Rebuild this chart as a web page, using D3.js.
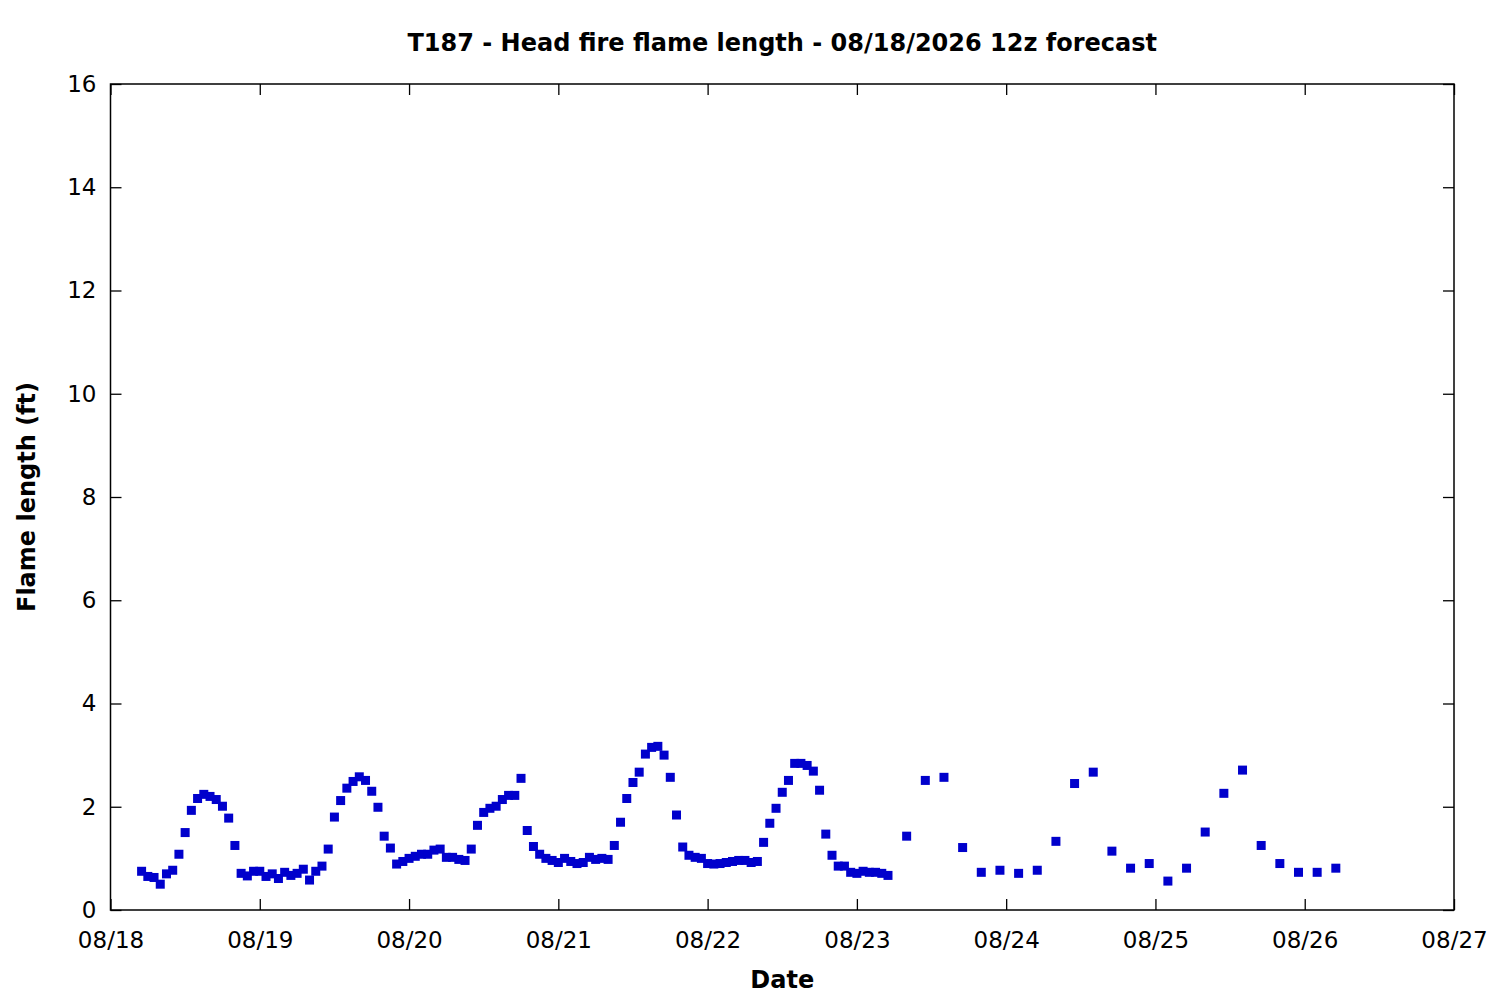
<!DOCTYPE html>
<html>
<head>
<meta charset="utf-8">
<script src="https://cdn.jsdelivr.net/npm/d3@7"></script>
<style>
  html, body { margin: 0; padding: 0; background: #fff; }
  svg { display: block; }
  text { font-family: "DejaVu Sans", sans-serif; fill: #000; }
</style>
</head>
<body>
<div id="chart"></div>
<script>
// ---- Data ----
const titleText = "T187 - Head fire flame length - 08/18/2026 12z forecast";
const xTitle = "Date";
const yTitle = "Flame length (ft)";

// Hourly values starting 08/18 05:00
const hourlyStart = "2026-08-18T05:00:00Z";
const hourlyValues = [
  0.75, 0.65, 0.63, 0.50, 0.70, 0.77, 1.08, 1.50, 1.93, 2.16, 2.24, 2.20, 2.14, 2.01, 1.78, 1.25,
  0.71, 0.66, 0.75, 0.75, 0.65, 0.70, 0.61, 0.73, 0.67, 0.71, 0.79, 0.58, 0.75, 0.85, 1.18, 1.80,
  2.12, 2.36, 2.49, 2.58, 2.51, 2.30, 1.99, 1.43, 1.20, 0.89, 0.94, 1.00, 1.04, 1.08, 1.08, 1.16,
  1.18, 1.02, 1.02, 0.98, 0.96, 1.18, 1.64, 1.89, 1.97, 2.01, 2.14, 2.22, 2.22, 2.55, 1.54, 1.23,
  1.08, 1.00, 0.96, 0.92, 1.00, 0.94, 0.90, 0.92, 1.02, 0.98, 1.00, 0.98, 1.25, 1.70, 2.16, 2.47,
  2.67, 3.02, 3.15, 3.17, 3.00, 2.57, 1.84, 1.22, 1.06, 1.02, 1.00, 0.90, 0.89, 0.90, 0.92, 0.94,
  0.96, 0.96, 0.92, 0.94, 1.31, 1.68, 1.97, 2.28, 2.51, 2.84, 2.84, 2.80, 2.69, 2.32, 1.47, 1.06,
  0.85, 0.85, 0.73, 0.71, 0.75, 0.73, 0.73, 0.71, 0.67
];

// 3-hourly values starting 08/23 08:00
const threeHourlyStart = "2026-08-23T08:00:00Z";
const threeHourlyValues = [
  1.43, 2.51, 2.57, 1.21, 0.73, 0.77, 0.71, 0.77, 1.33, 2.45, 2.67, 1.14,
  0.81, 0.90, 0.56, 0.81, 1.51, 2.26, 2.71, 1.25, 0.90, 0.73, 0.73, 0.81
];

const xDomain = ["2026-08-18T00:00:00Z", "2026-08-27T00:00:00Z"];
const yDomain = [0, 16];
const yTickValues = [0, 2, 4, 6, 8, 10, 12, 14, 16];

(function () {
  // ---- Build points ----
  const points = [];
  const h0 = new Date(hourlyStart);
  hourlyValues.forEach((v, i) => points.push({ t: d3.utcHour.offset(h0, i), v }));
  const t0 = new Date(threeHourlyStart);
  threeHourlyValues.forEach((v, i) => points.push({ t: d3.utcHour.offset(t0, 3 * i), v }));

  // ---- Layout ----
  const W = 1500, H = 1000;
  const mL = 110.5, mR = 1454, mT = 84, mB = 910;
  const tickLen = 11;
  const tickFont = 23, titleFont = 24;

  const svg = d3.select("#chart").append("svg").attr("width", W).attr("height", H);

  const x = d3.scaleUtc().domain(xDomain.map(d => new Date(d))).range([mL, mR]);
  const y = d3.scaleLinear().domain(yDomain).range([mB, mT]);

  const xTicks = d3.utcDay.range(new Date(xDomain[0]), d3.utcDay.offset(new Date(xDomain[1]), 1));
  const fmt = d3.utcFormat("%m/%d");

  const axB = d3.axisBottom(x).tickValues(xTicks).tickFormat(fmt).tickSizeInner(-tickLen).tickSizeOuter(0).tickPadding(22);
  const axT = d3.axisTop(x).tickValues(xTicks).tickFormat("").tickSizeInner(-tickLen).tickSizeOuter(0);
  const axL = d3.axisLeft(y).tickValues(yTickValues).tickSizeInner(-tickLen).tickSizeOuter(0).tickPadding(14);
  const axR = d3.axisRight(y).tickValues(yTickValues).tickFormat("").tickSizeInner(-tickLen).tickSizeOuter(0);

  function styleAxis(g) {
    g.select(".domain").remove();
    g.selectAll(".tick line").attr("stroke", "#000").attr("stroke-width", 1.3);
    g.selectAll(".tick text").attr("font-size", tickFont).attr("font-family", "DejaVu Sans").attr("fill", "#000");
  }

  svg.append("g").attr("transform", `translate(0,${mB})`).call(axB).call(styleAxis);
  svg.append("g").attr("transform", `translate(0,${mT})`).call(axT).call(styleAxis);
  svg.append("g").attr("transform", `translate(${mL},0)`).call(axL).call(styleAxis);
  svg.append("g").attr("transform", `translate(${mR},0)`).call(axR).call(styleAxis);

  svg.append("rect")
    .attr("x", mL).attr("y", mT)
    .attr("width", mR - mL).attr("height", mB - mT)
    .attr("fill", "none").attr("stroke", "#000").attr("stroke-width", 1.5);

  const ms = 9;
  svg.append("g").selectAll("rect").data(points).join("rect")
    .attr("x", d => x(d.t) - ms / 2)
    .attr("y", d => y(d.v) - ms / 2)
    .attr("width", ms).attr("height", ms)
    .attr("fill", "#0000cc");

  svg.append("text")
    .attr("x", (mL + mR) / 2).attr("y", 51)
    .attr("text-anchor", "middle").attr("font-weight", "bold").attr("font-size", titleFont)
    .text(titleText);

  svg.append("text")
    .attr("x", (mL + mR) / 2).attr("y", 988)
    .attr("text-anchor", "middle").attr("font-weight", "bold").attr("font-size", titleFont)
    .text(xTitle);

  svg.append("text")
    .attr("transform", `translate(35,${(mT + mB) / 2}) rotate(-90)`)
    .attr("text-anchor", "middle").attr("font-weight", "bold").attr("font-size", titleFont)
    .text(yTitle);
})();
</script>
</body>
</html>
